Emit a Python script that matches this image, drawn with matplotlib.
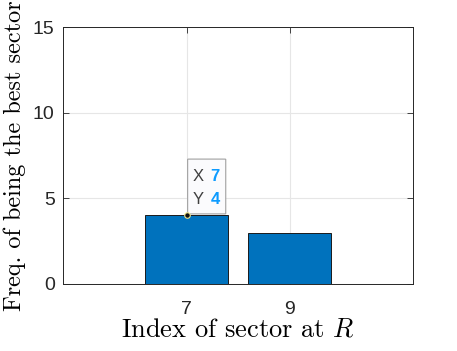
import numpy as np
import matplotlib.pyplot as plt
from matplotlib.patches import FancyBboxPatch

plt.rcParams['mathtext.fontset'] = 'cm'
plt.rcParams['font.family'] = ['Liberation Sans', 'DejaVu Sans']

# data
sectors = [7, 9]
freq = [4, 3]
tip_x, tip_y = 7, 4

fig = plt.figure(figsize=(4.57, 3.51), dpi=100)
ax = fig.add_axes([0.138, 0.191, 0.766, 0.732])

ax.bar(sectors, freq, width=1.6, color='#0072BD', edgecolor='#1a1a1a', linewidth=0.7, zorder=3)

ax.set_xlim(4.6, 11.4)
ax.set_ylim(0, 15)
ax.set_xticks(sectors)
ax.set_yticks([0, 5, 10, 15])
ax.grid(True, color='#e6e6e6', linewidth=0.8, zorder=0)
ax.set_axisbelow(True)
ax.tick_params(direction='in', length=4, width=0.6, color='#262626', labelsize=14,
               top=True, right=True, labelcolor='#262626')
ax.tick_params(axis='x', pad=12)
ax.tick_params(axis='y', pad=6)
for s in ax.spines.values():
    s.set_color('#262626')
    s.set_linewidth(0.7)

ax.set_xlabel('Index of sector at $R$', fontsize=19, family='cmr10', labelpad=0)
ax.set_ylabel('Freq. of being the best sector', fontsize=17.5, family='cmr10', labelpad=5)

# data tip
ax.plot([tip_x], [tip_y], 'o', ms=4, mfc='#111111', mec='#f0e68c', mew=0.8, zorder=6)
tip = FancyBboxPatch((7.02, 4.09), 0.74, 3.2, boxstyle='round,pad=0,rounding_size=0.06',
                     fc='#fbfbfd', ec='#a0a0a0', lw=0.8, zorder=5, mutation_aspect=1 / 8)
ax.add_patch(tip)
ax.text(7.11, 6.25, 'X', fontsize=12, color='#404040', va='center', zorder=7)
ax.text(7.46, 6.25, str(tip_x), fontsize=12, color='#0d9bff', fontweight='bold', va='center', zorder=7)
ax.text(7.11, 4.96, 'Y', fontsize=12, color='#404040', va='center', zorder=7)
ax.text(7.46, 4.96, str(tip_y), fontsize=12, color='#0d9bff', fontweight='bold', va='center', zorder=7)

fig.savefig('out.png', dpi=100)
